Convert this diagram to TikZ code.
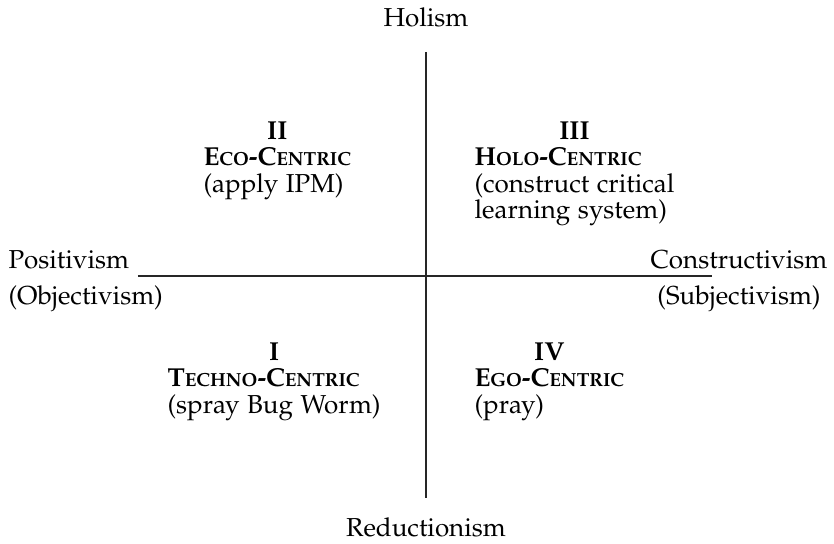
\documentclass[tikz,border=0pt]{standalone}
\usepackage[T1]{fontenc}
\usepackage[sc]{mathpazo}

\tikzset{
  axis/.style={black!85, line width=0.5pt},
  pole/.style={inner sep=0pt, font=\fontsize{10}{10}\selectfont},
  quad/.style={inner sep=0pt, anchor=base west, font=\fontsize{10}{9.75}\selectfont}
}
% bold small caps by hand (Palatino has none)
\newcommand{\smcp}[1]{{\fontsize{7.3}{8}\selectfont #1}}
\newcommand{\quadtext}[3]{\begin{tabular}[t]{@{}l@{}}\multicolumn{1}{@{}c@{}}{\textbf{#1}}\\ \textbf{#2}\\ #3\end{tabular}}

\begin{document}
\begin{tikzpicture}[x=0.385pt, y=-0.385pt]
  \useasboundingbox (0,0) rectangle (834,544);
  % axes
  \coordinate (top) at (426,52);
  \coordinate (bottom) at (426,498);
  \coordinate (left) at (138,276);
  \coordinate (right) at (712,276);
  \draw[axis] (top) -- (bottom);
  \draw[axis] (left) -- (right);
  % poles
  \node[pole, anchor=base] (holism) at (426,27) {Holism};
  \node[pole, anchor=base] (reduct) at (426,537) {Reductionism};
  \node[pole, anchor=base west] (posit) at (8,269) {Positivism};
  \node[pole, anchor=base west] (object) at (8,305) {(Objectivism)};
  \node[pole, anchor=base] (construct) at (739,269) {Constructivism};
  \node[pole, anchor=base] (subject) at (739,305) {(Subjectivism)};
  % quadrants
  \node[quad] (eco) at (203,140) {\quadtext{II}{E\smcp{CO}-C\smcp{ENTRIC}}{(apply IPM)}};
  \node[quad] (holo) at (474,140) {\quadtext{III}{H\smcp{OLO}-C\smcp{ENTRIC}}{(construct critical\\ learning system)}};
  \node[quad] (techno) at (167,361) {\quadtext{I}{T\smcp{ECHNO}-C\smcp{ENTRIC}}{(spray Bug Worm)}};
  \node[quad] (ego) at (474,361) {\quadtext{IV}{E\smcp{GO}-C\smcp{ENTRIC}}{(pray)}};
\end{tikzpicture}
\end{document}
